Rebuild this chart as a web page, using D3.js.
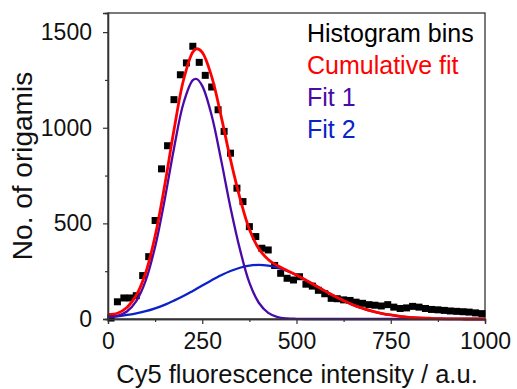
<!DOCTYPE html>
<html>
<head>
<meta charset="utf-8">
<script src="https://cdn.jsdelivr.net/npm/d3@7"></script>
<style>
  body { margin: 0; background: #fff; }
  text { font-family: "Liberation Sans", Arial, sans-serif; }
</style>
</head>
<body>
<svg width="517" height="389"></svg>
<script>
// histogram bins (centre, count)
const binX = [8, 25, 42, 58, 75, 92, 108, 125, 142, 158, 175, 192, 208, 225, 242, 258, 275, 292, 308, 325,
  342, 358, 375, 392, 408, 425, 442, 458, 475, 492, 508, 525, 542, 558, 575, 592, 608, 625, 642, 658,
  675, 692, 708, 725, 742, 758, 775, 792, 808, 825, 842, 858, 875, 892, 908, 925, 942, 958, 975, 992];
const binCount = [5, 90, 110, 110, 122, 227, 326, 515, 785, 906, 1147, 1277, 1339, 1426, 1342, 1274, 1213, 1094, 981, 867,
  684, 614, 483, 431, 370, 361, 280, 239, 213, 204, 221, 182, 172, 150, 132, 108, 106, 100, 97, 88,
  82, 75, 72, 68, 75, 62, 55, 58, 66, 62, 55, 50, 48, 45, 42, 40, 38, 36, 32, 28];

// fit curves
const fitX = [0, 25, 50, 75, 100, 125, 150, 175, 200, 225, 235, 250, 275, 300, 325, 350, 375, 400, 425, 450,
  475, 500, 525, 550, 575, 600, 625, 650, 675, 700, 725, 750, 775, 800, 825, 850, 875, 900, 950, 1000];
const fit1 = [10, 16, 39, 94, 201, 378, 620, 892, 1127, 1249, 1255, 1219, 1064, 832, 582, 364, 190, 85, 32, 10,
  3, 1, 0, 0, 0, 0, 0, 0, 0, 0, 0, 0, 0, 0, 0, 0, 0, 0, 0, 0];
const fit2 = [12, 14, 21, 30, 41, 56, 74, 96, 120, 147, 158, 175, 203, 229, 251, 268, 279, 283, 279, 268,
  251, 229, 203, 175, 147, 120, 96, 74, 56, 41, 30, 21, 14, 9, 6, 4, 2, 1, 0, 0];
const fitSum = [24, 30, 60, 124, 242, 434, 694, 988, 1247, 1396, 1413, 1394, 1267, 1061, 833, 632, 469, 368, 311, 278,
  254, 230, 203, 175, 147, 120, 96, 74, 56, 41, 30, 21, 14, 9, 6, 4, 2, 1, 0, 0];

const xTicks = [0, 250, 500, 750, 1000];
const xMinor = [125, 375, 625, 875];
const yTicks = [0, 500, 1000, 1500];
const yMinor = [250, 750, 1250];

const legendItems = [
  {label: "Histogram bins", color: "#000000"},
  {label: "Cumulative fit", color: "#ff0000"},
  {label: "Fit 1", color: "#4a0aa8"},
  {label: "Fit 2", color: "#0a22c8"}
];

const plotLeft = 108, plotRight = 485, plotTop = 13, plotBottom = 319;
const svg = d3.select("svg");

const x = d3.scaleLinear().domain([0, 1000]).range([plotLeft, plotRight]);
const y = d3.scaleLinear().domain([0, 1600]).range([plotBottom, plotTop]);

// frame
svg.append("rect")
  .attr("x", plotLeft).attr("y", plotTop)
  .attr("width", plotRight - plotLeft).attr("height", plotBottom - plotTop)
  .attr("fill", "none").attr("stroke", "#333").attr("stroke-width", 1.3);

// squares
const sq = 7;
svg.append("g").selectAll("rect")
  .data(binX)
  .enter()
  .append("rect")
  .attr("x", (d, i) => x(d) - sq / 2)
  .attr("y", (d, i) => y(binCount[i]) - sq / 2)
  .attr("width", sq).attr("height", sq)
  .attr("fill", "#000");

function drawFit(vals, color, w) {
  const line = d3.line()
    .x((d, i) => x(fitX[i]))
    .y(d => y(d))
    .curve(d3.curveCatmullRom.alpha(0.5));
  svg.append("path")
    .datum(vals)
    .attr("fill", "none")
    .attr("stroke", color)
    .attr("stroke-width", w)
    .attr("d", line);
}
drawFit(fit2, legendItems[3].color, 2.3);
drawFit(fit1, legendItems[2].color, 2.3);
drawFit(fitSum, legendItems[1].color, 2.8);

// axes
const xAxis = svg.append("g")
  .attr("transform", `translate(0, ${plotBottom})`)
  .call(d3.axisBottom(x).tickValues(xTicks).tickSize(5).tickPadding(9).tickFormat(d3.format("d")));
svg.append("g")
  .attr("transform", `translate(0, ${plotBottom})`)
  .call(d3.axisBottom(x).tickValues(xMinor).tickSize(3).tickFormat(""));
const yAxis = svg.append("g")
  .attr("transform", `translate(${plotLeft}, 0)`)
  .call(d3.axisLeft(y).tickValues(yTicks).tickSize(5).tickPadding(11).tickFormat(d3.format("d")));
svg.append("g")
  .attr("transform", `translate(${plotLeft}, 0)`)
  .call(d3.axisLeft(y).tickValues(yMinor).tickSize(3).tickFormat(""));

svg.selectAll(".domain").attr("stroke", "#333").attr("stroke-width", 1.3);
svg.selectAll(".tick line").attr("stroke", "#333").attr("stroke-width", 1.2);
xAxis.selectAll("text").attr("font-size", "23px").attr("fill", "#111")
  .style("font-family", "'Liberation Sans', Arial, sans-serif");
yAxis.selectAll("text").attr("font-size", "23px").attr("fill", "#111")
  .style("font-family", "'Liberation Sans', Arial, sans-serif");

// axis titles
svg.append("text")
  .attr("x", 297)
  .attr("y", 383)
  .attr("text-anchor", "middle")
  .attr("font-size", "25.5px")
  .attr("fill", "#111")
  .text("Cy5 fluorescence intensity / a.u.");

svg.append("text")
  .attr("transform", `translate(32, 166) rotate(-90)`)
  .attr("text-anchor", "middle")
  .attr("font-size", "28px")
  .attr("fill", "#111")
  .text("No. of origamis");

// legend
svg.append("g").selectAll("text")
  .data(legendItems)
  .enter()
  .append("text")
  .attr("x", 307)
  .attr("y", (d, i) => 41.5 + i * 32)
  .attr("font-size", "25px")
  .attr("fill", d => d.color)
  .text(d => d.label);
</script>
</body>
</html>
